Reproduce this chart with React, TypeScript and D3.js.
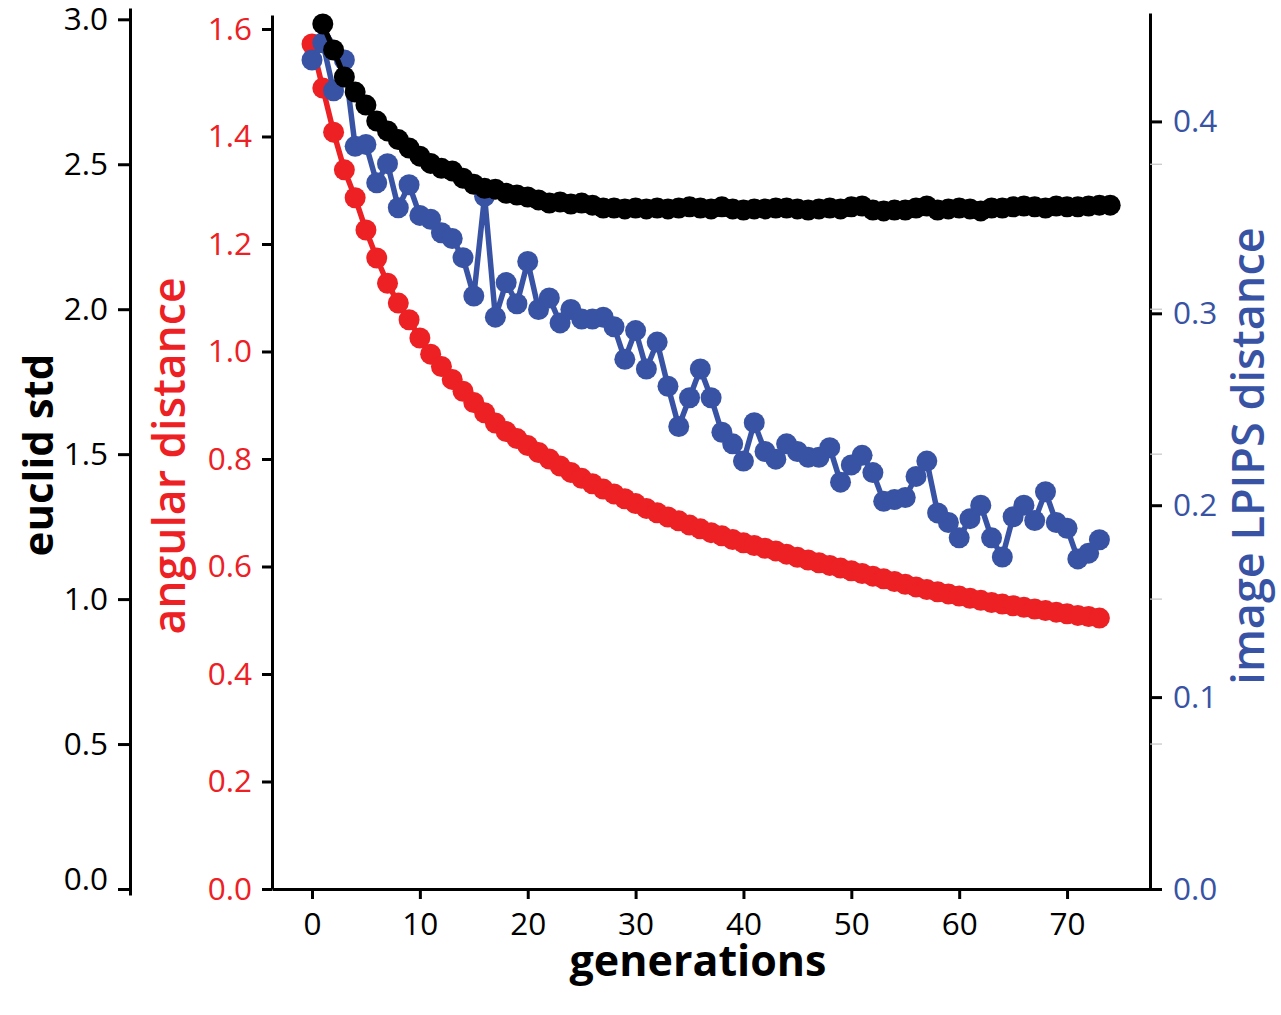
import React, { useRef, useEffect } from 'react';
import * as d3 from 'd3';

// angular distance per generation (gen 0..73)
const angularDistance = [
  1.572, 1.49, 1.408, 1.338, 1.286, 1.226, 1.174, 1.127, 1.09, 1.059,
  1.025, 0.995, 0.972, 0.948, 0.926, 0.905, 0.886, 0.867, 0.851, 0.838,
  0.825, 0.812, 0.8, 0.787, 0.775, 0.764, 0.754, 0.744, 0.735, 0.726,
  0.717, 0.708, 0.7, 0.692, 0.685, 0.677, 0.67, 0.663, 0.657, 0.65,
  0.644, 0.639, 0.634, 0.629, 0.623, 0.617, 0.612, 0.607, 0.602, 0.597,
  0.592, 0.587, 0.582, 0.577, 0.572, 0.567, 0.562, 0.557, 0.553, 0.549,
  0.545, 0.541, 0.537, 0.533, 0.53, 0.527, 0.524, 0.521, 0.518, 0.515,
  0.512, 0.509, 0.507, 0.504,
];

// image LPIPS distance per generation (gen 0..73)
const lpipsDistance = [
  0.432, 0.441, 0.416, 0.432, 0.387, 0.388, 0.368, 0.378, 0.355, 0.367,
  0.351, 0.349, 0.342, 0.339, 0.329, 0.309, 0.361, 0.298, 0.316, 0.305,
  0.327, 0.302, 0.308, 0.295, 0.302, 0.297, 0.297, 0.298, 0.293, 0.276,
  0.291, 0.271, 0.285, 0.262, 0.241, 0.256, 0.271, 0.256, 0.238, 0.232,
  0.223, 0.243, 0.228, 0.224, 0.232, 0.228, 0.225, 0.225, 0.23, 0.212,
  0.221, 0.226, 0.217, 0.202, 0.203, 0.204, 0.215, 0.223, 0.196, 0.191,
  0.183, 0.193, 0.2, 0.183, 0.173, 0.194, 0.2, 0.192, 0.207, 0.191,
  0.188, 0.172, 0.175, 0.182,
];

// euclid std per generation (gen 1..74)
const euclidStd = [
  2.984, 2.894, 2.801, 2.749, 2.704, 2.649, 2.615, 2.585, 2.556, 2.528,
  2.503, 2.486, 2.477, 2.452, 2.431, 2.417, 2.414, 2.4, 2.394, 2.387,
  2.377, 2.366, 2.37, 2.363, 2.366, 2.359, 2.349, 2.349, 2.346, 2.349,
  2.346, 2.349, 2.346, 2.349, 2.353, 2.349, 2.346, 2.353, 2.346, 2.342,
  2.346, 2.346, 2.349, 2.349, 2.346, 2.342, 2.346, 2.349, 2.346, 2.353,
  2.356, 2.342, 2.339, 2.342, 2.342, 2.349, 2.356, 2.342, 2.346, 2.349,
  2.346, 2.339, 2.349, 2.349, 2.353, 2.356, 2.353, 2.349, 2.356, 2.353,
  2.353, 2.356, 2.359, 2.359,
];
const euclidStart = 1;

const xTicks = [0, 10, 20, 30, 40, 50, 60, 70];
const euclidTicks = [0, 0.5, 1.0, 1.5, 2.0, 2.5, 3.0];
const angularTicks = [0, 0.2, 0.4, 0.6, 0.8, 1.0, 1.2, 1.4, 1.6];
const lpipsTicks = [0, 0.1, 0.2, 0.3, 0.4];

const RED = '#ED2024';
const BLUE = '#3953A4';
const FONT = '"Open Sans", sans-serif';

const App: React.FC = () => {
  const svgRef = useRef<SVGSVGElement | null>(null);

  useEffect(() => {
    if (!svgRef.current) return;
    const svg = d3.select(svgRef.current);
    svg.selectAll('*').remove();

    const x = d3.scaleLinear().domain([-3.709, 77.69]).range([272, 1150]);
    const yE = d3.scaleLinear().domain([-0.0207, 3.039]).range([895, 8]);
    const yA = d3.scaleLinear().domain([0, 1.626]).range([889, 15]);
    const yL = d3.scaleLinear().domain([0, 0.4565]).range([889, 13]);

    const styleAxis = (g: d3.Selection<SVGGElement, unknown, null, undefined>, color: string) => {
      g.attr('font-family', FONT).attr('font-size', 31.5);
      g.select('.domain').attr('stroke', '#000').attr('stroke-width', 3);
      g.selectAll('.tick line').attr('stroke', '#000').attr('stroke-width', 3);
      g.selectAll('.tick text').attr('fill', color);
    };

    // euclid std axis (outer left)
    const gE = svg.append('g').attr('transform', 'translate(130,0)')
      .call(d3.axisLeft(yE).tickValues(euclidTicks).tickFormat(d3.format('.1f'))
        .tickSize(12).tickSizeOuter(0).tickPadding(10));
    styleAxis(gE, '#000');
    gE.selectAll<SVGTextElement, number>('.tick text')
      .filter(d => d === 0).attr('y', -10);

    // angular distance axis
    const gA = svg.append('g').attr('transform', 'translate(272,0)')
      .call(d3.axisLeft(yA).tickValues(angularTicks).tickFormat(d3.format('.1f'))
        .tickSize(10).tickSizeOuter(0).tickPadding(10));
    styleAxis(gA, RED);

    // LPIPS axis (right)
    const gL = svg.append('g').attr('transform', 'translate(1150,0)')
      .call(d3.axisRight(yL).tickValues(lpipsTicks).tickFormat(d3.format('.1f'))
        .tickSize(12).tickSizeOuter(0).tickPadding(11));
    styleAxis(gL, BLUE);
    gL.selectAll('.ghost')
      .data(euclidTicks.filter(t => t > 0 && t < 3))
      .join('line')
      .attr('x1', 0).attr('x2', 12)
      .attr('y1', d => yE(d)).attr('y2', d => yE(d))
      .attr('stroke', '#c4c4c4').attr('stroke-width', 1.2);

    // x axis
    const gX = svg.append('g').attr('transform', 'translate(0,889)')
      .call(d3.axisBottom(x).tickValues(xTicks).tickSize(10).tickSizeOuter(0).tickPadding(14));
    styleAxis(gX, '#000');

    // series
    const gens = (arr: number[], start: number) => arr.map((v, i) => ({ g: i + start, v }));

    const drawSeries = (data: { g: number; v: number }[], y: d3.ScaleLinear<number, number>, color: string) => {
      const line = d3.line<{ g: number; v: number }>().x(d => x(d.g)).y(d => y(d.v));
      const g = svg.append('g');
      g.append('path').attr('d', line(data)).attr('fill', 'none')
        .attr('stroke', color).attr('stroke-width', 5.5).attr('stroke-linejoin', 'round');
      g.selectAll('circle').data(data).join('circle')
        .attr('cx', d => x(d.g)).attr('cy', d => y(d.v)).attr('r', 10.5).attr('fill', color);
    };

    drawSeries(gens(angularDistance, 0), yA, RED);
    drawSeries(gens(lpipsDistance, 0), yL, BLUE);
    drawSeries(gens(euclidStd, euclidStart), yE, '#000');

    // titles
    const title = (txt: string, tx: number, ty: number, rot: number, color: string, weight: number, size: number) =>
      svg.append('text').text(txt)
        .attr('transform', `translate(${tx},${ty}) rotate(${rot})`)
        .attr('text-anchor', 'middle').attr('font-family', FONT)
        .attr('font-size', size).attr('font-weight', weight).attr('fill', color);

    title('euclid std', 53, 455, -90, '#000', 700, 42);
    title('angular distance', 185, 456, -90, RED, 600, 44.5);
    title('image LPIPS distance', 1264, 456, -90, BLUE, 600, 45);
    title('generations', 698, 976, 0, '#000', 700, 43);
  }, []);

  return (
    <svg ref={svgRef} width={1281} height={1015}
      style={{ position: 'absolute', left: 0, top: 0, background: '#fff' }} />
  );
};

export default App;
